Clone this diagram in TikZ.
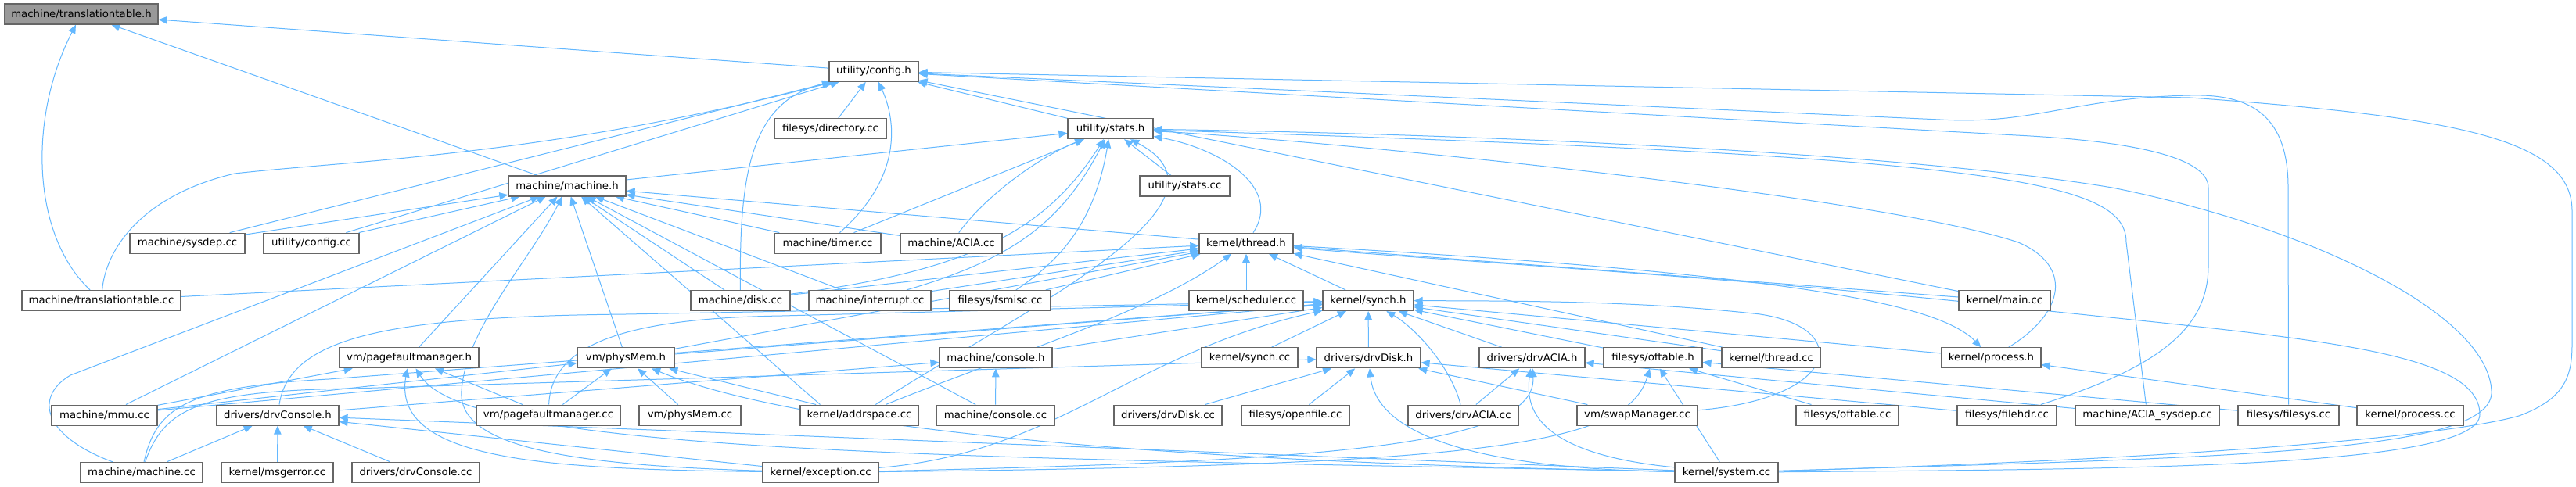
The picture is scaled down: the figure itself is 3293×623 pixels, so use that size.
\documentclass[tikz,border=0pt]{standalone}
\usepackage{fontspec}
\setmainfont{DejaVu Sans}
\usetikzlibrary{arrows.meta}
\definecolor{edgeblue}{HTML}{63B8FF}
\definecolor{boxline}{HTML}{666666}
\definecolor{hifill}{HTML}{999999}
\pgfdeclarelayer{back}
\pgfdeclarelayer{bg}
\pgfsetlayers{back,bg,main}
\tikzset{
  box/.style={draw=boxline, line width=1.2pt, fill=white, rectangle, minimum height=26pt, inner sep=0pt, font=\fontsize{13.3}{16}\selectfont},
  hibox/.style={box, fill=hifill},
  edge/.style={draw=edgeblue, line width=1pt, -{Triangle[length=11pt,width=9.5pt]}}
}
\begin{document}
\begin{tikzpicture}[x=1pt,y=1pt]
\begin{pgfonlayer}{back}
\fill[white] (0,0) rectangle (3293,-623);
\end{pgfonlayer}
\useasboundingbox (0,0) rectangle (3293,-623);
% row 0
\node[hibox, minimum width=196] (TTH) at (104,-18) {machine/translationtable.h};
% row 1
\node[box, minimum width=114] (CFGH) at (1117,-91.3) {utility/config.h};
% row 2
\node[box, minimum width=143] (DIRCC) at (1061.5,-164.6) {filesys/directory.cc};
\node[box, minimum width=109] (STATSH) at (1419.5,-164.6) {utility/stats.h};
% row 3
\node[box, minimum width=150] (MACHH) at (725,-237.9) {machine/machine.h};
\node[box, minimum width=115] (STATSCC) at (1514.5,-237.9) {utility/stats.cc};
% row 4
\node[box, minimum width=147] (SYSDEP) at (239.5,-311.2) {machine/sysdep.cc};
\node[box, minimum width=122] (CFGCC) at (398,-311.2) {utility/config.cc};
\node[box, minimum width=136] (TIMER) at (1058,-311.2) {machine/timer.cc};
\node[box, minimum width=130] (ACIACC) at (1216,-311.2) {machine/ACIA.cc};
\node[box, minimum width=120] (THREADH) at (1593,-311.2) {kernel/thread.h};
% row 5
\node[box, minimum width=203] (TTCC) at (129.5,-384.5) {machine/translationtable.cc};
\node[box, minimum width=127] (DISK) at (946.5,-384.5) {machine/disk.cc};
\node[box, minimum width=156] (INTR) at (1112,-384.5) {machine/interrupt.cc};
\node[box, minimum width=129] (FSMISC) at (1278.5,-384.5) {filesys/fsmisc.cc};
\node[box, minimum width=146] (SCHED) at (1593,-384.5) {kernel/scheduler.cc};
\node[box, minimum width=116] (SYNCHH) at (1749,-384.5) {kernel/synch.h};
\node[box, minimum width=117] (MAINCC) at (2562.5,-384.5) {kernel/main.cc};
% row 6
\node[box, minimum width=178] (PFMH) at (523,-457.8) {vm/pagefaultmanager.h};
\node[box, minimum width=124] (PHYSH) at (800,-457.8) {vm/physMem.h};
\node[box, minimum width=144] (CONSH) at (1273,-457.8) {machine/console.h};
\node[box, minimum width=123] (SYNCHCC) at (1597.5,-457.8) {kernel/synch.cc};
\node[box, minimum width=133] (DRVDISKH) at (1749.5,-457.8) {drivers/drvDisk.h};
\node[box, minimum width=135] (DRVACIAH) at (1958.5,-457.8) {drivers/drvACIA.h};
\node[box, minimum width=126] (OFTH) at (2113,-457.8) {filesys/oftable.h};
\node[box, minimum width=126] (THREADCC) at (2264,-457.8) {kernel/thread.cc};
\node[box, minimum width=127] (PROCH) at (2545.5,-457.8) {kernel/process.h};
% row 7
\node[box, minimum width=135] (MMU) at (133.5,-531.1) {machine/mmu.cc};
\node[box, minimum width=156] (DRVCONSH) at (355,-531.1) {drivers/drvConsole.h};
\node[box, minimum width=184] (PFMCC) at (701,-531.1) {vm/pagefaultmanager.cc};
\node[box, minimum width=130] (PHYSCC) at (882,-531.1) {vm/physMem.cc};
\node[box, minimum width=151] (ADDR) at (1098.5,-531.1) {kernel/addrspace.cc};
\node[box, minimum width=151] (CONSCC) at (1272.5,-531.1) {machine/console.cc};
\node[box, minimum width=138] (DRVDISKCC) at (1493,-531.1) {drivers/drvDisk.cc};
\node[box, minimum width=138] (OPENFILE) at (1656,-531.1) {filesys/openfile.cc};
\node[box, minimum width=141] (DRVACIACC) at (1870.5,-531.1) {drivers/drvACIA.cc};
\node[box, minimum width=154] (SWAP) at (2093,-531.1) {vm/swapManager.cc};
\node[box, minimum width=131] (OFTCC) at (2361.5,-531.1) {filesys/oftable.cc};
\node[box, minimum width=127] (FILEHDR) at (2565.5,-531.1) {filesys/filehdr.cc};
\node[box, minimum width=184] (ACIASYS) at (2745,-531.1) {machine/ACIA\_sysdep.cc};
\node[box, minimum width=129] (FILESYS) at (2925.5,-531.1) {filesys/filesys.cc};
\node[box, minimum width=136] (PROCCC) at (3081,-531.1) {kernel/process.cc};
% row 8
\node[box, minimum width=156] (MACHCC) at (181,-604.4) {machine/machine.cc};
\node[box, minimum width=143] (MSGERR) at (354.5,-604.4) {kernel/msgerror.cc};
\node[box, minimum width=163] (DRVCONSCC) at (531.5,-604.4) {drivers/drvConsole.cc};
\node[box, minimum width=148] (EXC) at (1049,-604.4) {kernel/exception.cc};
\node[box, minimum width=132] (SYSCC) at (2207,-604.4) {kernel/system.cc};

\begin{pgfonlayer}{bg}
% into translationtable.h
\draw[edge] (MACHH) -- (TTH);
\draw[edge] (CFGH) -- (TTH);
\draw[edge] (TTCC) .. controls (40,-300) and (36,-150) .. (TTH);
% into config.h
\draw[edge] (TTCC) .. controls (135,-320) and (180,-250) .. (300,-222) .. controls (450,-205) and (700,-200) .. (CFGH);
\draw[edge] (SYSDEP) -- (CFGH);
\draw[edge] (CFGCC) -- (CFGH);
\draw[edge] (DISK) .. controls (945,-220) and (960,-130) .. (CFGH);
\draw[edge] (DIRCC) -- (CFGH);
\draw[edge] (TIMER) .. controls (1150,-230) and (1148,-160) .. (CFGH);
\draw[edge] (STATSH) -- (CFGH);
\draw[edge] (MAINCC) -- (CFGH);
\draw[edge] (SYSCC) .. controls (2700,-590) and (3100,-565) .. (3220,-532) .. controls (3280,-510) and (3288,-480) .. (3288,-440) -- (3288,-270) .. controls (3288,-180) and (3150,-150) .. (2800,-125) -- (CFGH);
\draw[edge] (FILESYS) -- (2925,-240) .. controls (2925,-150) and (2880,-120) .. (2800,-122) .. controls (2650,-125) and (2600,-160) .. (2480,-153) -- (CFGH);
\draw[edge] (FILEHDR) .. controls (2760,-470) and (2823,-420) .. (2823,-340) -- (2823,-240) .. controls (2823,-200) and (2720,-180) .. (2577,-173) -- (CFGH);
% into stats.h
\draw[edge] (MACHH) -- (STATSH);
\draw[edge] (THREADH) .. controls (1640,-240) and (1560,-190) .. (STATSH);
\draw[edge] (STATSCC) -- (STATSH);
\draw[edge] (TIMER) -- (STATSH);
\draw[edge] (ACIACC) .. controls (1260,-250) and (1330,-200) .. (STATSH);
\draw[edge] (INTR) .. controls (1300,-330) and (1360,-280) .. (STATSH);
\draw[edge] (FSMISC) .. controls (1360,-330) and (1400,-280) .. (STATSH);
\draw[edge] (DISK) .. controls (1250,-345) and (1340,-290) .. (STATSH);
\draw[edge] (ADDR) .. controls (1300,-400) and (1600,-260) .. (STATSH);
\draw[edge] (SYSCC) .. controls (2850,-585) and (3190,-580) .. (3185,-500) .. controls (3180,-400) and (2950,-290) .. (2700,-240) .. controls (2400,-190) and (1800,-170) .. (STATSH);
\draw[edge] (ACIASYS) -- (2718,-310) .. controls (2718,-230) and (2550,-200) .. (STATSH);
\draw[edge] (PROCH) .. controls (2640,-400) and (2650,-340) .. (2580,-310) .. controls (2400,-250) and (1700,-180) .. (STATSH);
% into machine.h
\draw[edge] (SYSDEP) -- (MACHH);
\draw[edge] (CFGCC) -- (MACHH);
\draw[edge] (MACHCC) .. controls (60,-560) and (40,-510) .. (90,-480) -- (MACHH);
\draw[edge] (MMU) -- (MACHH);
\draw[edge] (PFMH) -- (MACHH);
\draw[edge] (EXC) .. controls (720,-595) and (585,-570) .. (590,-500) .. controls (595,-420) and (680,-330) .. (MACHH);
\draw[edge] (PHYSH) -- (MACHH);
\draw[edge] ([xshift=-50pt]ADDR.north) -- ([xshift=18pt]MACHH.south);
\draw[edge] (CONSCC) -- (MACHH);
\draw[edge] (DISK) -- (MACHH);
\draw[edge] (INTR) -- (MACHH);
\draw[edge] (TIMER) -- (MACHH);
\draw[edge] (ACIACC) -- (MACHH);
\draw[edge] (THREADH) -- (MACHH);
% into thread.h
\draw[edge] (TTCC) -- (THREADH);
\draw[edge] (DISK) -- (THREADH);
\draw[edge] (INTR) -- (THREADH);
\draw[edge] (FSMISC) -- (THREADH);
\draw[edge] (SCHED) -- (THREADH);
\draw[edge] (SYNCHH) -- (THREADH);
\draw[edge] (PHYSH) -- (THREADH);
\draw[edge] (ADDR) .. controls (1300,-450) and (1470,-400) .. (THREADH);
\draw[edge] (THREADCC) -- (THREADH);
\draw[edge] (MAINCC) -- (THREADH);
\draw[edge] (SYSCC) .. controls (2700,-600) and (3170,-600) .. (3170,-530) .. controls (3170,-440) and (2900,-430) .. (2500,-385) .. controls (2150,-350) and (1800,-330) .. (THREADH);
% into process.h
\draw[edge] (THREADH) .. controls (2300,-350) and (2480,-390) .. (PROCH);
\draw[edge] (PROCCC) -- (PROCH);
% into synch.h
\draw[edge] (SYNCHCC) -- (SYNCHH);
\draw[edge] (DRVDISKH) -- (SYNCHH);
\draw[edge] (DRVACIAH) -- (SYNCHH);
\draw[edge] (DRVACIACC) .. controls (1855,-470) and (1810,-420) .. (SYNCHH);
\draw[edge] (CONSH) -- (SYNCHH);
\draw[edge] (PHYSH) -- (SYNCHH);
\draw[edge] (MMU) -- (SYNCHH);
\draw[edge] (MACHCC) .. controls (200,-520) and (240,-495) .. (420,-485) -- (SYNCHH);
\draw[edge] (DRVCONSH) .. controls (370,-430) and (500,-405) .. (800,-402) -- (SYNCHH);
\draw[edge] (PFMCC) .. controls (705,-440) and (800,-407) .. (1000,-404) -- (SYNCHH);
\draw[edge] (EXC) .. controls (1350,-580) and (1450,-450) .. (SYNCHH);
\draw[edge] (OFTH) -- (SYNCHH);
\draw[edge] (PROCH) -- (SYNCHH);
\draw[edge] (THREADCC) -- (SYNCHH);
\draw[edge] (SWAP) .. controls (2350,-510) and (2370,-420) .. (2250,-402) .. controls (2100,-385) and (1950,-385) .. (SYNCHH);
% into pagefaultmanager.h
\draw[edge] (PFMCC) -- (PFMH);
\draw[edge] (MMU) -- (PFMH);
\draw[edge] (EXC) .. controls (700,-600) and (500,-590) .. (PFMH);
\draw[edge] (SYSCC) .. controls (1200,-585) and (600,-580) .. (PFMH);
% into physMem.h
\draw[edge] (PFMCC) -- (PHYSH);
\draw[edge] (PHYSCC) -- (PHYSH);
\draw[edge] (ADDR) -- (PHYSH);
\draw[edge] (MMU) -- (PHYSH);
\draw[edge] (SYSCC) .. controls (1400,-590) and (1000,-540) .. (PHYSH);
% into drvConsole.h
\draw[edge] (MACHCC) -- (DRVCONSH);
\draw[edge] (MSGERR) -- (DRVCONSH);
\draw[edge] (DRVCONSCC) -- (DRVCONSH);
\draw[edge] (EXC) -- (DRVCONSH);
\draw[edge] (SYSCC) -- (DRVCONSH);
% into console.h
\draw[edge] (CONSCC) -- (CONSH);
\draw[edge] (DRVCONSH) -- (CONSH);
% into drvDisk.h
\draw[edge] (DRVDISKCC) -- (DRVDISKH);
\draw[edge] (OPENFILE) -- (DRVDISKH);
\draw[edge] (SYSCC) .. controls (1900,-600) and (1760,-560) .. (DRVDISKH);
\draw[edge] (SWAP) -- (DRVDISKH);
\draw[edge] (FILEHDR) -- (DRVDISKH);
\draw[edge] (MACHCC) .. controls (210,-520) and (260,-500) .. (450,-497) -- (DRVDISKH);
% into drvACIA.h
\draw[edge] (DRVACIACC) -- (DRVACIAH);
\draw[edge] (ACIASYS) -- (DRVACIAH);
\draw[edge] (SYSCC) .. controls (1960,-580) and (1950,-520) .. (DRVACIAH);
\draw[edge] (EXC) .. controls (1700,-590) and (1965,-570) .. (DRVACIAH);
% into oftable.h
\draw[edge] (OFTCC) -- (OFTH);
\draw[edge] (FILESYS) -- (OFTH);
\draw[edge] (SYSCC) -- (OFTH);
\draw[edge] (EXC) .. controls (1900,-595) and (2080,-570) .. (OFTH);
\end{pgfonlayer}
\end{tikzpicture}
\end{document}
